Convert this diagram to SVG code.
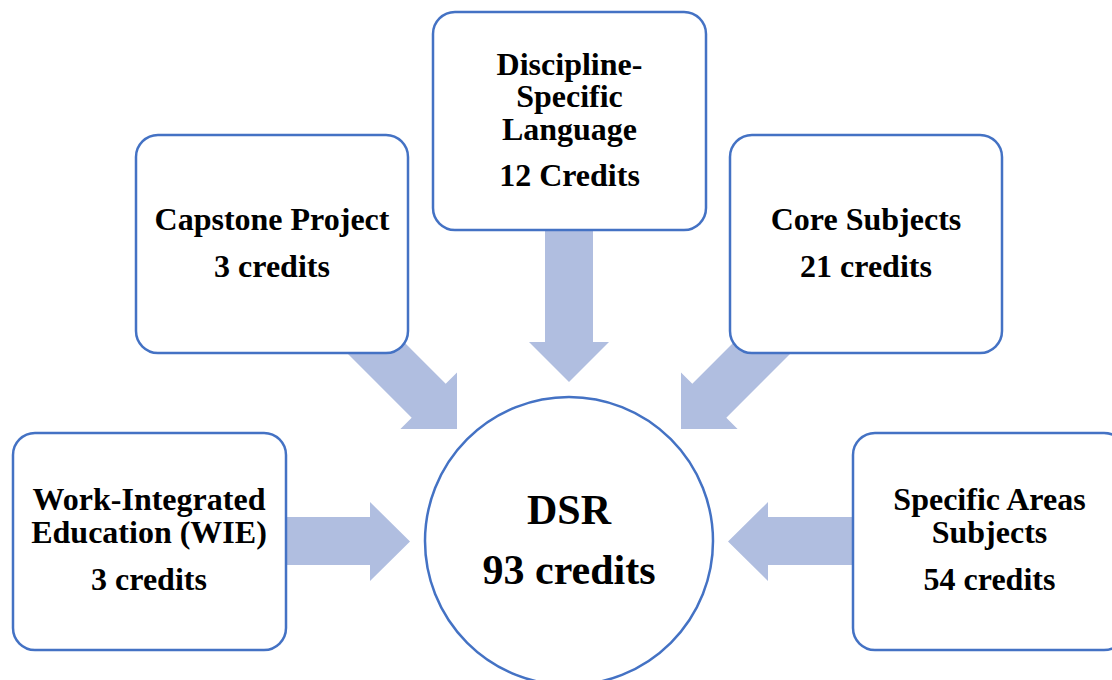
<svg xmlns="http://www.w3.org/2000/svg" width="1112" height="680" viewBox="0 0 1112 680">
<style>
.box{fill:#fff;stroke:#4472C4;stroke-width:2.5}
.arr{fill:#B0BEE0;stroke:none}
text{font-family:"Liberation Serif","Times New Roman",serif;font-weight:bold;fill:#000;text-anchor:middle}
.t{font-size:32px}
.big{font-size:42px}
</style>
<rect width="1112" height="680" fill="#fff"/>
<g id="connectors">
<polygon class="arr" points="286,517 370,517 370,502 410,541.5 370,581 370,565 286,565"/>
<polygon class="arr" points="853,517 768,517 768,502 728,541.5 768,581 768,565 853,565"/>
<polygon class="arr" points="545,228 593,228 593,342 609,342 569,382 529,342 545,342"/>
<polygon class="arr" points="377,315 445.7,383.7 457,372.4 457,429 400.4,429 411.7,417.7 343,349"/>
<polygon class="arr" points="761,315 692.3,383.7 681,372.4 681,429 737.6,429 726.3,417.7 795,349"/>
</g>
<g id="dsl">
<rect class="box" x="433" y="12" width="273" height="218" rx="22"/>
<text class="t" x="569.5" y="75">Discipline-</text>
<text class="t" x="569.5" y="107">Specific</text>
<text class="t" x="569.5" y="140">Language</text>
<text class="t" x="569.5" y="186">12 Credits</text>
</g>
<g id="capstone">
<rect class="box" x="136" y="135" width="272" height="218" rx="22"/>
<text class="t" x="272" y="230">Capstone Project</text>
<text class="t" x="272" y="277">3 credits</text>
</g>
<g id="core">
<rect class="box" x="730" y="135" width="272" height="218" rx="22"/>
<text class="t" x="866" y="230">Core Subjects</text>
<text class="t" x="866" y="277">21 credits</text>
</g>
<g id="wie">
<rect class="box" x="13" y="433" width="273" height="217" rx="22"/>
<text class="t" x="149" y="510">Work-Integrated</text>
<text class="t" x="149" y="543">Education (WIE)</text>
<text class="t" x="149" y="590">3 credits</text>
</g>
<g id="specific">
<rect class="box" x="853" y="433" width="273" height="217" rx="22"/>
<text class="t" x="989.5" y="510">Specific Areas</text>
<text class="t" x="989.5" y="543">Subjects</text>
<text class="t" x="989.5" y="590">54 credits</text>
</g>
<g id="dsr">
<circle class="box" cx="569" cy="541" r="144"/>
<text class="big" x="569" y="524">DSR</text>
<text class="big" x="569" y="584">93 credits</text>
</g>
</svg>
